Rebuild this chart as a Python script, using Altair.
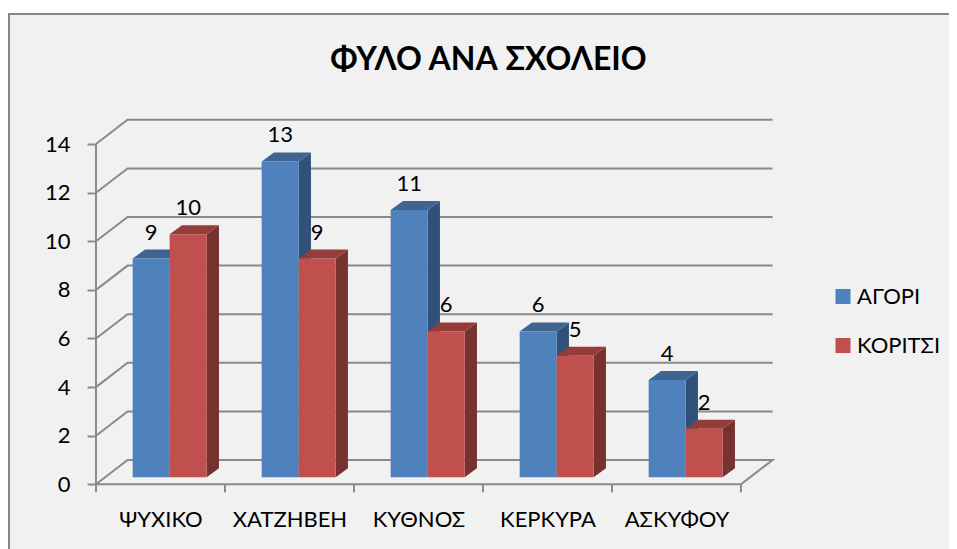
import altair as alt
import pandas as pd

# --- values ---
categories = ["ΨΥΧΙΚΟ", "ΧΑΤΖΗΒΕΗ", "ΚΥΘΝΟΣ", "ΚΕΡΚΥΡΑ", "ΑΣΚΥΦΟΥ"]
boys = [9, 13, 11, 6, 4]
girls = [10, 9, 6, 5, 2]
series_names = ["ΑΓΟΡΙ", "ΚΟΡΙΤΣΙ"]
y_ticks = [0, 2, 4, 6, 8, 10, 12, 14]
title_text = "ΦΥΛΟ ΑΝΑ ΣΧΟΛΕΙΟ"

# --- pseudo-3D geometry, in data units ---
FONT = "Lato"
WALL_DX, WALL_DY = 0.245, 1.0
BAR_START, BAR_W = 0.2845, 0.2868
BAR_DX, BAR_DY, BAR_BASE = 0.0953, 0.37, 0.288
GRID = "#8a8a8a"
FRONT = {"ΑΓΟΡΙ": "#4f81bd", "ΚΟΡΙΤΣΙ": "#c0504d"}
TOP = {"ΑΓΟΡΙ": "#3f648f", "ΚΟΡΙΤΣΙ": "#933c3a"}
SIDE = {"ΑΓΟΡΙ": "#30527a", "ΚΟΡΙΤΣΙ": "#773230"}

W, H = 941, 541
xs = alt.Scale(domain=[-0.682, 6.6127], nice=False, zero=False)
ys = alt.Scale(domain=[-2.663, 19.6], nice=False, zero=False)

n = len(categories)
axis_y = alt.Axis(values=y_ticks, offset=-88, orient="left", title=None, domain=False, grid=False,
                  tickSize=9, tickColor=GRID, tickWidth=2, labelFont=FONT, labelFontSize=22,
                  labelColor="black", labelPadding=17, zindex=1)
axis_x = alt.Axis(values=[i + 0.5 for i in range(n)],
                  labelExpr="%s[floor(datum.value)]" % str(categories),
                  offset=-65, orient="bottom", title=None, domain=False, grid=False, ticks=False,
                  labelFont=FONT, labelFontSize=22, labelColor="black", labelPadding=35,
                  labelBaseline="middle", labelOverlap=False, labelBound=False, zindex=1)

X = lambda f: alt.X(f, type="quantitative", scale=xs, axis=axis_x)
Y = lambda f: alt.Y(f, type="quantitative", scale=ys, axis=axis_y)

# grid polylines
rows = []
for t in y_ticks:
    pts = [(0, t), (WALL_DX, t + WALL_DY), (n + WALL_DX, t + WALL_DY)]
    if t == 0:
        pts += [(n, 0), (0, 0)]
    for i, (a, b) in enumerate(pts):
        rows.append(dict(id=t, o=i, x=a, y=b))
grid_df = pd.DataFrame(rows)

# axis lines and ticks
rule_rows = [dict(x=float(i), y=-0.33, y2=0.0) for i in range(n + 1)]
rule_rows.append(dict(x=0.0, y=0.0, y2=float(y_ticks[-1])))
rule_df = pd.DataFrame(rule_rows)

front, side, top = [], [], []
for s, (name, vals) in enumerate(zip(series_names, [boys, girls])):
    for i, v in enumerate(vals):
        x0 = i + BAR_START + s * BAR_W
        x1 = x0 + BAR_W
        b = BAR_BASE
        t = v + BAR_BASE
        front.append(dict(series=name, x=x0, x2=x1, y=b, y2=t, value=v, xc=(x0 + x1) / 2))
        side.append(dict(series=name, id=i, x=x1, y=t, y2=b))
        side.append(dict(series=name, id=i, x=x1 + BAR_DX, y=t + BAR_DY, y2=b + BAR_DY))
        top.append(dict(series=name, id=i, x=x0, x2=x1, y=t))
        top.append(dict(series=name, id=i, x=x0 + BAR_DX, x2=x1 + BAR_DX, y=t + BAR_DY))
front_df, side_df, top_df = map(pd.DataFrame, (front, side, top))

frame = alt.Chart(pd.DataFrame({"a": [0]})).mark_rect(
    fill="#f1f1f1", stroke="#868686", strokeWidth=2
).encode(x=alt.value(1), x2=alt.value(1100), y=alt.value(6), y2=alt.value(700))

grid = alt.Chart(grid_df).mark_line(color=GRID, strokeWidth=2).encode(
    x=X("x"), y=Y("y"), detail="id:N", order="o:Q",
)
rules = alt.Chart(rule_df).mark_rule(color=GRID, strokeWidth=2).encode(
    x=X("x"), y=Y("y"), y2="y2"
)

layers = [frame, grid, rules]
color_scale = alt.Scale(domain=series_names, range=[FRONT[k] for k in series_names])
for name in series_names:
    layers.append(
        alt.Chart(side_df[side_df.series == name]).mark_area(color=SIDE[name]).encode(
            x=X("x"), y=Y("y"), y2="y2", detail="id:N"
        )
    )
    layers.append(
        alt.Chart(top_df[top_df.series == name]).mark_area(color=TOP[name], orient="horizontal").encode(
            y=Y("y"), x=X("x"), x2="x2", detail="id:N"
        )
    )
    layers.append(
        alt.Chart(front_df[front_df.series == name]).mark_rect().encode(
            x=X("x"), x2="x2", y=Y("y"), y2="y2",
            color=alt.Color(
                "series:N", scale=color_scale,
                legend=alt.Legend(
                    title=None, orient="none", legendX=824, legendY=277.5,
                    symbolType="square", symbolSize=225, symbolStrokeWidth=0,
                    labelFont=FONT, labelFontSize=22, labelColor="black",
                    labelOffset=3, rowPadding=27,
                ),
            ),
        )
    )
labels = alt.Chart(front_df).mark_text(
    font=FONT, fontSize=22, color="black", dy=-26, baseline="middle"
).encode(x=X("xc"), y=Y("y2"), text="value:Q")
layers.append(labels)

chart = alt.layer(*layers).properties(
    width=W, height=H,
    background="white",
    title=alt.TitleParams(title_text, font=FONT, fontSize=32, fontWeight="bold", color="black",
                          anchor="middle", dx=10, offset=-69),
    autosize=alt.AutoSizeParams(type="none"),
    padding=0,
).configure_view(stroke=None)

chart.save("out.html", embed_options={"renderer": "svg", "actions": False})
